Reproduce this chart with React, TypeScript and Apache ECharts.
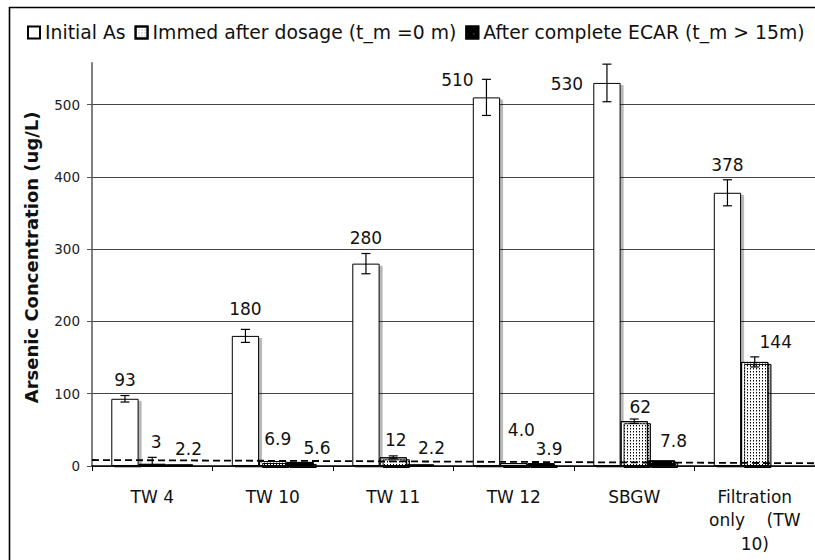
import React, { useEffect, useRef } from "react";
import * as echarts from "echarts";

const categories = ["TW 4", "TW 10", "TW 11", "TW 12", "SBGW", "Filtration\nonly    (TW\n10)"];
const initialAs = [93, 180, 280, 510, 530, 378];
const initialErr = [4.5, 9, 14, 25, 26, 18];
const immedAfter = [3, 6.9, 12, 4.0, 62, 144];
const immedErr = [9, 0, 2, 0, 3, 7];
const immedLabels = ["3", "6.9", "12", "4.0", "62", "144"];
const afterEcar: (number | null)[] = [2.2, 5.6, 2.2, 3.9, 7.8, null];
const afterErr = [0, 0, 0, 0, 0, 0];
const guideline = [8.3, 3.8];
const yTicks = [0, 100, 200, 300, 400, 500];
const seriesNames = ["Initial As", "Immed after dosage (t_m =0 m)", "After complete ECAR (t_m > 15m)"];

// label placement (style)
const initialOffsets = [[0, -9], [0, -17], [0, -16], [-29, -7], [-40, 11], [0, -18]];
const immedOffsets = [[4, -12], [5, -12], [2.5, -7], [7.6, -23], [6, -4.5], [21, -10]];
const afterOffsets = [[9, -5], [17, -4], [11, -6], [8, -4], [12, -9], [0, 0]];

const FONT = "DejaVu Sans";
const BAR_W = 27.3;

function App() {
  const ref = useRef<HTMLDivElement>(null);
  useEffect(() => {
    if (!ref.current) return;
    const chart = echarts.init(ref.current, null, { renderer: "svg" });

    const shadow = { shadowColor: "rgba(0,0,0,0.28)", shadowOffsetX: 3, shadowOffsetY: 2, shadowBlur: 0 };
    const labelBase = { show: true, position: "top", distance: 0, fontSize: 17, lineHeight: 20, color: "#111", fontFamily: FONT };

    const mkBar = (name: string, vals: (number | null)[], offs: number[][], style: any, texts?: string[]) => ({
      name,
      type: "bar",
      barWidth: BAR_W,
      barGap: "0%",
      itemStyle: style,
      label: {
        ...labelBase,
        formatter: (p: any) => (texts ? texts[p.dataIndex] : String(p.value)),
      },
      data: vals.map((v, i) =>
        v == null ? "-" : { value: v, label: { offset: offs[i] } }
      ),
      z: 2,
    });

    const errSeries = (vals: (number | null)[], errs: number[], slot: number) => ({
      type: "custom",
      silent: true,
      z: 5,
      renderItem: (params: any, api: any) => {
        const idx = api.value(0);
        const v = api.value(1);
        const e = api.value(2);
        if (!e) return null;
        const c = api.coord([idx, v]);
        const x = c[0] + (slot - 1) * BAR_W;
        const top = api.coord([idx, v + e])[1];
        const lowV = v - e;
        const bot = api.coord([idx, Math.max(0, lowV)])[1];
        const hw = 4.5;
        const st = { stroke: "#000", lineWidth: 1.2 };
        const children: any[] = [
          { type: "line", shape: { x1: x, y1: top, x2: x, y2: bot }, style: st },
          { type: "line", shape: { x1: x - hw, y1: top, x2: x + hw, y2: top }, style: st },
        ];
        if (lowV > 0) children.push({ type: "line", shape: { x1: x - hw, y1: bot, x2: x + hw, y2: bot }, style: st });
        return { type: "group", children };
      },
      data: vals.map((v, i) => (v == null ? [i, 0, 0] : [i, v, errs[i]])),
    });

    const option: any = {
      animation: false,
      textStyle: { fontFamily: FONT },
      graphic: [
        {
          type: "polyline",
          z: 100,
          silent: true,
          shape: { points: [[9.5, 600], [9.5, 7.5], [830, 7.5]] },
          style: { fill: null, stroke: "#000", lineWidth: 1.6 },
        },
      ],
      legend: {
        left: 22,
        top: 18,
        itemWidth: 12,
        itemHeight: 12,
        itemGap: 9,
        icon: "rect",
        textStyle: { fontSize: 18.8, color: "#111", fontFamily: FONT },
        data: seriesNames,
      },
      grid: { left: 92, right: -2, top: 62.7, bottom: 94 },
      xAxis: [
        {
          type: "category",
          data: categories,
          axisLine: { lineStyle: { color: "#000", width: 1.5 } },
          axisTick: { show: true, length: 5, lineStyle: { color: "#000" } },
          axisLabel: { fontSize: 17, lineHeight: 23.5, color: "#111", margin: 19, fontFamily: FONT, interval: 0 },
        },
        { type: "value", min: 0, max: 1, show: false },
      ],
      yAxis: {
        type: "value",
        min: 0,
        max: 558,
        interval: 100,
        name: "Arsenic Concentration (ug/L)",
        nameLocation: "middle",
        nameGap: 52,
        nameTextStyle: { fontSize: 18, fontWeight: "bold", color: "#111", fontFamily: FONT, padding: [0, 0, 0, 14] },
        axisLine: { show: true, lineStyle: { color: "#555", width: 1.5 } },
        axisTick: { show: true, length: 5, lineStyle: { color: "#555" }, customValues: yTicks },
        axisLabel: { fontSize: 13.5, color: "#222", margin: 12, customValues: yTicks, fontFamily: FONT },
        splitLine: {
          show: true,
          lineStyle: { color: ["#444", "#444", "#444", "#444", "#444", "#444", "#aaa"], width: 1 },
        },
      },
      series: [
        mkBar(seriesNames[0], initialAs, initialOffsets, { color: "#fff", borderColor: "#000", borderWidth: 1, ...shadow }),
        mkBar(
          seriesNames[1],
          immedAfter,
          immedOffsets,
          {
            color: "#fff",
            borderColor: "#000",
            borderWidth: 1,
            decal: { symbol: "rect", symbolSize: 1, dashArrayX: [1, 2], dashArrayY: [1, 2], rotation: 0, color: "#888" },
            ...shadow,
          },
          immedLabels
        ),
        mkBar(seriesNames[2], afterEcar, afterOffsets, {
          color: "#000",
          borderColor: "#000",
          borderWidth: 1,
          decal: { symbol: "rect", symbolSize: 1, dashArrayX: [1, 6], dashArrayY: [1, 6], rotation: 0, color: "#999" },
          ...shadow,
        }),
        errSeries(initialAs, initialErr, 0),
        errSeries(immedAfter, immedErr, 1),
        errSeries(afterEcar, afterErr, 2),
        {
          type: "line",
          xAxisIndex: 1,
          symbol: "none",
          silent: true,
          z: 10,
          lineStyle: { color: "#000", width: 1.8, type: [7, 4] },
          data: guideline.map((v, i) => [i, v]),
        },
      ],
    };
    chart.setOption(option);
    return () => chart.dispose();
  }, []);
  return (
    <div
      ref={ref}
      style={{ position: "absolute", left: 0, top: 0, width: 815, height: 560, background: "#fff" }}
    />
  );
}

export default App;
